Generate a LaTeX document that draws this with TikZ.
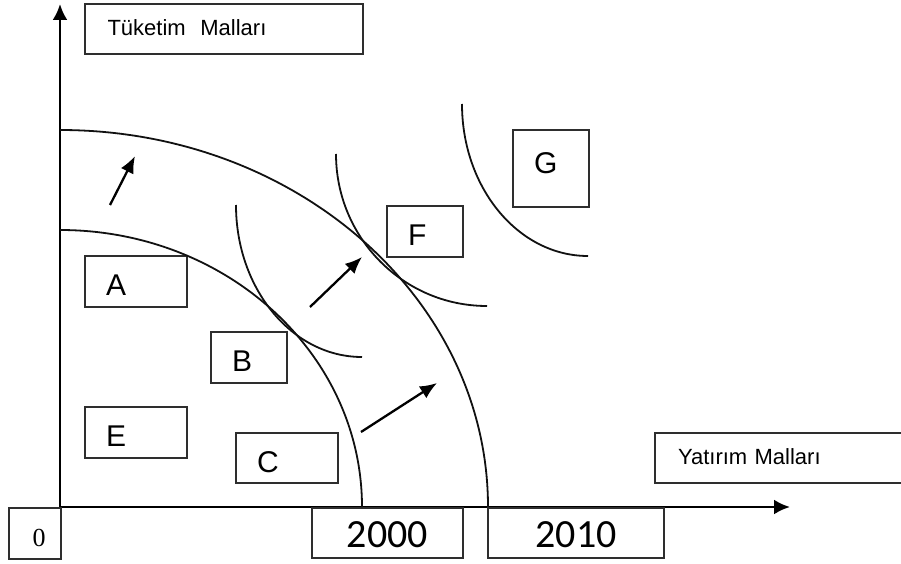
\documentclass[tikz,border=0pt]{standalone}
\usepackage{fontspec}
\setmainfont{Liberation Sans}
\newfontfamily\calibrifont{Carlito}
\newfontfamily\timesfont{Liberation Serif}
\usepackage{xcolor}
\definecolor{boxline}{HTML}{2E2E2E}
\definecolor{curveline}{HTML}{111111}
\usepackage{tikz}
\usetikzlibrary{arrows.meta}

\begin{document}
\begin{tikzpicture}[x=1pt, y=-1pt,
  box/.style={draw=boxline, line width=2pt, anchor=north west, inner ysep=0pt, text depth=0pt},
  letter/.style={font=\fontsize{30}{32}\selectfont, align=left, inner xsep=21pt},
  axis/.style={line width=2.6pt, -{Latex[length=16pt,width=15pt]}},
  growarrow/.style={line width=2.3pt, -{Latex[length=17pt,width=14pt]}},
  curve/.style={draw=curveline, line width=1.8pt}]
  \useasboundingbox (0,0) rectangle (901,564);

  \coordinate (O) at (60,507);
  \coordinate (ytip) at (60,4);
  \coordinate (xtip) at (790,507);
  \draw[axis] (O) -- (ytip);
  \draw[axis] (O) -- (xtip);

  \node[box, minimum width=278pt, minimum height=50pt, text width=233pt, inner xsep=22.5pt, align=left, text height=14pt, font=\fontsize{22}{24}\selectfont] (consumer) at (84,3) {Tüketim\ \ Malları};
  \node[box, minimum width=256pt, minimum height=50pt, text width=210pt, inner xsep=23pt, align=left, text height=12pt, font=\fontsize{22}{24}\selectfont] (invest) at (654,432) {Yatırım Malları};
  \node[box, minimum width=52pt, minimum height=51pt, text width=5pt, inner xsep=23.5pt, align=left, text height=25pt, font=\timesfont\fontsize{26}{28}\selectfont] (origin) at (8,507) {0};
  \node[box, minimum width=151pt, minimum height=50pt, inner xsep=0pt, text height=28pt, font=\calibrifont\fontsize{40}{44}\selectfont] (y2000) at (311,507) {2000};
  \node[box, minimum width=176pt, minimum height=50pt, inner xsep=0pt, text height=28pt, font=\calibrifont\fontsize{40}{44}\selectfont] (y2010) at (487,507) {2010};

  \foreach \lab/\xpos/\ypos/\boxw/\boxh/\txth in {A/84/255/102/51/28, B/210/331/76/51/28, E/84/406/102/51/28, C/235/432/102/50/28, F/386/205/76/51/28, G/512/129/76/77/9} {
    \pgfmathsetmacro\txtw{\boxw-42}
    \node[box, letter, minimum width=\boxw pt, minimum height=\boxh pt, text width=\txtw pt, text height=\txth pt] (\lab) at (\xpos,\ypos) {\lab};
  }

  \coordinate (ppf2000) at (60,230);
  \coordinate (ppf2010) at (60,130);
  \draw[curve] (ppf2000) arc[start angle=90, end angle=0, x radius=302pt, y radius=277pt];
  \draw[curve] (ppf2010) arc[start angle=90, end angle=0, x radius=428pt, y radius=377pt];

  \coordinate (icB) at (236,205);
  \coordinate (icF) at (336,154);
  \coordinate (icG) at (462,104);
  \draw[curve] (icB) arc[start angle=180, end angle=270, x radius=126pt, y radius=152pt];
  \draw[curve] (icF) arc[start angle=180, end angle=270, x radius=151pt, y radius=152pt];
  \draw[curve] (icG) arc[start angle=180, end angle=270, x radius=126pt, y radius=152pt];

  \coordinate (up1) at (110,205);
  \coordinate (up2) at (135,156);
  \coordinate (mid1) at (310,307);
  \coordinate (mid2) at (362,257);
  \coordinate (low1) at (361,432);
  \coordinate (low2) at (437,383);
  \draw[growarrow] (up1) -- (up2);
  \draw[growarrow] (mid1) -- (mid2);
  \draw[growarrow] (low1) -- (low2);
\end{tikzpicture}
\end{document}
